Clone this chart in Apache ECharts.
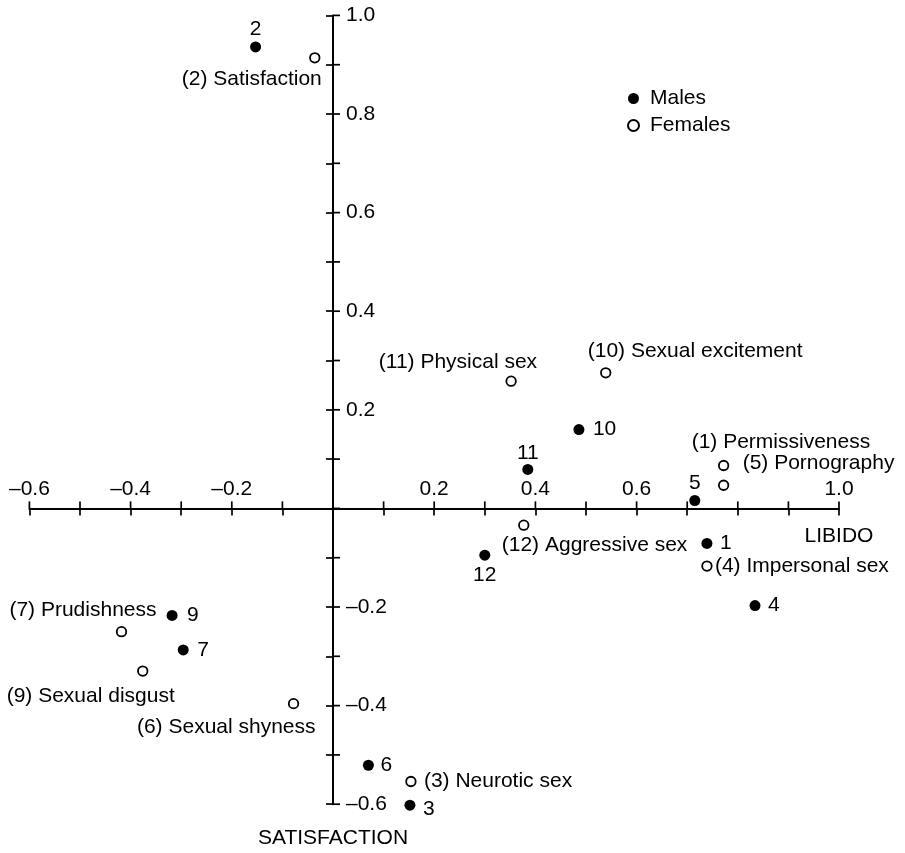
<!DOCTYPE html>
<html>
<head>
<meta charset="utf-8">
<script src="https://cdn.jsdelivr.net/npm/echarts@6/dist/echarts.min.js"></script>
<style>
  html, body { margin: 0; padding: 0; background: #ffffff; }
  #chart { width: 905px; height: 853px; }
</style>
</head>
<body>
<div id="chart"></div>
<script>
// Factor loadings of the sex-attitude scales on LIBIDO (x) and SATISFACTION (y)
const scaleNumbers = [1, 2, 3, 4, 5, 6, 7, 9, 10, 11, 12];
const scaleNames = ['Permissiveness', 'Satisfaction', 'Neurotic sex', 'Impersonal sex', 'Pornography',
  'Sexual shyness', 'Prudishness', 'Sexual disgust', 'Sexual excitement', 'Physical sex', 'Aggressive sex'];

const maleLibido       = [0.739, -0.153, 0.152, 0.834, 0.715, 0.070, -0.296, -0.318, 0.486, 0.385, 0.300];
const maleSatisfaction = [-0.071, 0.936, -0.602, -0.197, 0.016, -0.521, -0.287, -0.217, 0.160, 0.079, -0.095];

const femaleLibido       = [0.772, -0.036, 0.154, 0.739, 0.772, -0.078, -0.418, -0.376, 0.539, 0.352, 0.377];
const femaleSatisfaction = [0.087, 0.914, -0.554, -0.117, 0.047, -0.396, -0.250, -0.330, 0.275, 0.258, -0.034];

// Tick positions (both axes) and the tick labels printed on each axis
const tickValues = [-0.6, -0.5, -0.4, -0.3, -0.2, -0.1, 0, 0.1, 0.2, 0.3, 0.4, 0.5, 0.6, 0.7, 0.8, 0.9, 1.0];
const xTickLabels = [-0.6, -0.4, -0.2, 0.2, 0.4, 0.6, 1.0];
const yTickLabels = [1.0, 0.8, 0.6, 0.4, 0.2, -0.2, -0.4, -0.6];

// Label placement per scale number: offset from the point centre and text alignment
const maleLabelPlace = {
  1: [13, 0, 'left'], 2: [0, -18, 'center'], 3: [13, 4, 'left'], 4: [13, 0, 'left'],
  5: [0, -17, 'center'], 6: [12, 0, 'left'], 7: [14, 0, 'left'], 9: [15, 0, 'left'],
  10: [14, 0, 'left'], 11: [0, -16, 'center'], 12: [0, 20, 'center']
};
const femaleLabelPlace = {
  1: [-32, -23, 'left'], 2: [7, 21, 'right'], 3: [13, 0, 'left'], 4: [8, 0, 'left'],
  5: [19, -22, 'left'], 6: [22, 24, 'right'], 7: [35, -21, 'right'], 9: [32, 25, 'right'],
  10: [-18, -22, 'left'], 11: [26, -19, 'right'], 12: [-22, 20, 'left']
};

const FONT = '"Liberation Sans", Arial, Helvetica, sans-serif';
const INK = '#000000';
const FS = 21;
const TICK_LEN = 7;

function tickText(list, v) {
  const r = Math.round(v * 10) / 10;
  for (const t of list) {
    if (Math.abs(t - r) < 1e-6) return t.toFixed(1).replace('-', '\u2013');
  }
  return '';
}

function buildPoints(xs, ys, place, textFor) {
  return scaleNumbers.map(function (n, i) {
    const p = place[n];
    return {
      value: [xs[i], ys[i]],
      label: {
        show: true,
        position: 'inside',
        offset: [p[0], p[1]],
        align: p[2],
        verticalAlign: 'middle',
        formatter: textFor(n, i),
        color: INK,
        fontFamily: FONT,
        fontSize: FS
      }
    };
  });
}

const axisLineStyle = { color: INK, width: 2 };
const tickStyle = { color: INK, width: 1.7 };

// Upper/right half of each cross-shaped tick plus its label: [x, y, kind] (0 = x axis, 1 = y axis)
const crossTickData = tickValues.map(function (v) { return [v, 0, 0]; })
  .concat(tickValues.map(function (v) { return [0, v, 1]; }));

function axisDef(name, location, namePadding, nameAlign) {
  return {
    type: 'value',
    min: -0.6, max: 1.0, interval: 0.1,
    axisLine: { show: true, onZero: true, lineStyle: axisLineStyle },
    axisTick: { show: true, inside: false, length: TICK_LEN, lineStyle: tickStyle },
    splitLine: { show: false },
    axisLabel: { show: false },
    name: name,
    nameLocation: location, nameGap: 0,
    nameTextStyle: { color: INK, fontFamily: FONT, fontSize: FS, align: nameAlign, verticalAlign: 'top', padding: namePadding }
  };
}

const chart = echarts.init(document.getElementById('chart'), null, { renderer: 'canvas' });

chart.setOption({
  backgroundColor: '#ffffff',
  animation: false,
  textStyle: { fontFamily: FONT, color: INK },
  grid: { left: 29.4, top: 15.4, width: 809.6, height: 788.8, containLabel: false, outerBoundsMode: 'none' },
  legend: {
    orient: 'vertical', left: 627, top: 88, itemGap: 6, padding: 0,
    itemWidth: 11, itemHeight: 11, icon: 'circle',
    textStyle: { color: INK, fontFamily: FONT, fontSize: FS, padding: [0, 0, 0, 6] },
    data: ['Males', 'Females']
  },
  xAxis: Object.assign(axisDef('LIBIDO', 'end', [17, 0, 0, 0], 'center'), { position: 'bottom' }),
  yAxis: Object.assign(axisDef('SATISFACTION', 'start', [24, 0, 0, 0], 'center'), { position: 'left' }),
  series: [
    {
      name: 'crossTicks', type: 'custom', coordinateSystem: 'cartesian2d', silent: true, clip: false,
      data: crossTickData,
      renderItem: function (params, api) {
        const v = [api.value(0), api.value(1)];
        const p = api.coord(v);
        const onX = api.value(2) === 0;
        const label = onX ? tickText(xTickLabels, v[0]) : tickText(yTickLabels, v[1]);
        const children = [{
          type: 'line',
          shape: onX
            ? { x1: p[0], y1: p[1], x2: p[0], y2: p[1] - TICK_LEN }
            : { x1: p[0], y1: p[1], x2: p[0] + TICK_LEN, y2: p[1] },
          style: { stroke: INK, lineWidth: tickStyle.width }
        }];
        if (label) {
          children.push({
            type: 'text',
            x: onX ? p[0] : p[0] + 13,
            y: onX ? p[1] - 9 : p[1],
            style: {
              text: label, fill: INK, font: FS + 'px ' + FONT,
              align: onX ? 'center' : 'left',
              verticalAlign: onX ? 'bottom' : 'middle'
            }
          });
        }
        return { type: 'group', children: children };
      }
    },
    {
      name: 'Males', type: 'scatter', clip: false,
      symbol: 'circle', symbolSize: 11,
      itemStyle: { color: INK, borderColor: INK, borderWidth: 0, opacity: 1 },
      emphasis: { disabled: true },
      data: buildPoints(maleLibido, maleSatisfaction, maleLabelPlace, function (n) { return String(n); })
    },
    {
      name: 'Females', type: 'scatter', clip: false,
      symbol: 'circle', symbolSize: 9.5,
      itemStyle: { color: '#ffffff', borderColor: INK, borderWidth: 1.8, opacity: 1 },
      emphasis: { disabled: true },
      data: buildPoints(femaleLibido, femaleSatisfaction, femaleLabelPlace, function (n, i) {
        return '(' + n + ') ' + scaleNames[i];
      })
    }
  ]
});
</script>
</body>
</html>
